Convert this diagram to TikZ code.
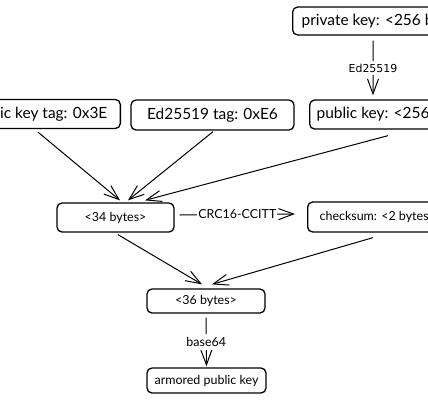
\documentclass[tikz,border=0pt]{standalone}
\usepackage{fontspec}
\setmainfont{Lato}
\newfontfamily\lblfont{DejaVu Sans}
\usetikzlibrary{arrows.meta}
\tikzset{
  x=1bp, y=-1bp,
  box/.style={draw, line width=1.3bp, rounded corners=5bp, inner ysep=0bp, align=center},
  bigtxt/.style={font=\fontsize{15.5}{17}\selectfont},
  smalltxt/.style={font=\fontsize{12.5}{14}\selectfont},
  conn/.style={line width=1bp, -{Straight Barb[length=15bp,width=11bp,line width=1bp]}},
  lbl/.style={fill=white, inner sep=1bp, font=\fontsize{12.5}{14}\selectfont},
}
\begin{document}
\begin{tikzpicture}
\useasboundingbox (0,0) rectangle (428,400);
\clip (0,0) rectangle (428,400);
% top row
\node[box, bigtxt, anchor=west, minimum height=28bp, inner xsep=9bp] (priv) at (292,21) {private key: <256 bytes>};
\node[box, bigtxt, anchor=west, minimum height=29bp, inner xsep=7bp] (pub) at (309,114.5) {public key: <256 bytes>};
\node[box, bigtxt, anchor=east, minimum height=29bp, inner xsep=13bp] (pubtag) at (121,114) {public key tag: 0x3E};
\node[box, bigtxt, minimum width=163bp, minimum height=30bp] (edtag) at (212.5,115) {Ed25519 tag: 0xE6};
% middle
\node[box, smalltxt, minimum width=117bp, minimum height=29bp] (b34) at (115.5,217.5) {<34 bytes>};
\node[box, smalltxt, anchor=west, minimum height=30bp, inner xsep=12bp] (chk) at (307,217) {checksum: <2 bytes>};
% bottom
\node[box, smalltxt, minimum width=118bp, minimum height=24bp] (b36) at (206,301) {<36 bytes>};
\node[box, smalltxt, minimum width=119bp, minimum height=25bp] (arm) at (206.5,380.5) {armored public key};
% connectors
\draw[conn] ([xshift=81bp,yshift=-5bp]priv.south west) -- node[lbl, font=\lblfont\fontsize{11}{13}\selectfont, inner ysep=3bp] {Ed25519} ([xshift=64bp,yshift=4bp]pub.north west);
\draw[conn] ([xshift=-83bp,yshift=-3bp]pubtag.south east) -- ([xshift=4.5bp,yshift=2bp]b34.north);
\draw[conn] ([xshift=0.5bp,yshift=-1bp]edtag.south) -- ([xshift=12.5bp,yshift=2bp]b34.north);
\draw[conn] ([xshift=79bp,yshift=-6bp]pub.south west) -- ([xshift=29.5bp,yshift=2bp]b34.north);
\draw[conn] ([xshift=5bp,yshift=2.5bp]b34.east) -- node[lbl] {CRC16-CCITT} ([xshift=-12bp,yshift=3bp]chk.west);
\draw[conn] ([xshift=2.5bp,yshift=-2bp]b34.south) -- ([xshift=-4bp,yshift=4bp]b36.north);
\draw[conn] ([xshift=66bp,yshift=-5bp]chk.south west) -- ([xshift=6bp,yshift=4bp]b36.north);
\draw[conn] ([yshift=-4bp]b36.south) -- node[lbl, inner ysep=3bp] {base64} ([yshift=1bp]arm.north);
\end{tikzpicture}
\end{document}
